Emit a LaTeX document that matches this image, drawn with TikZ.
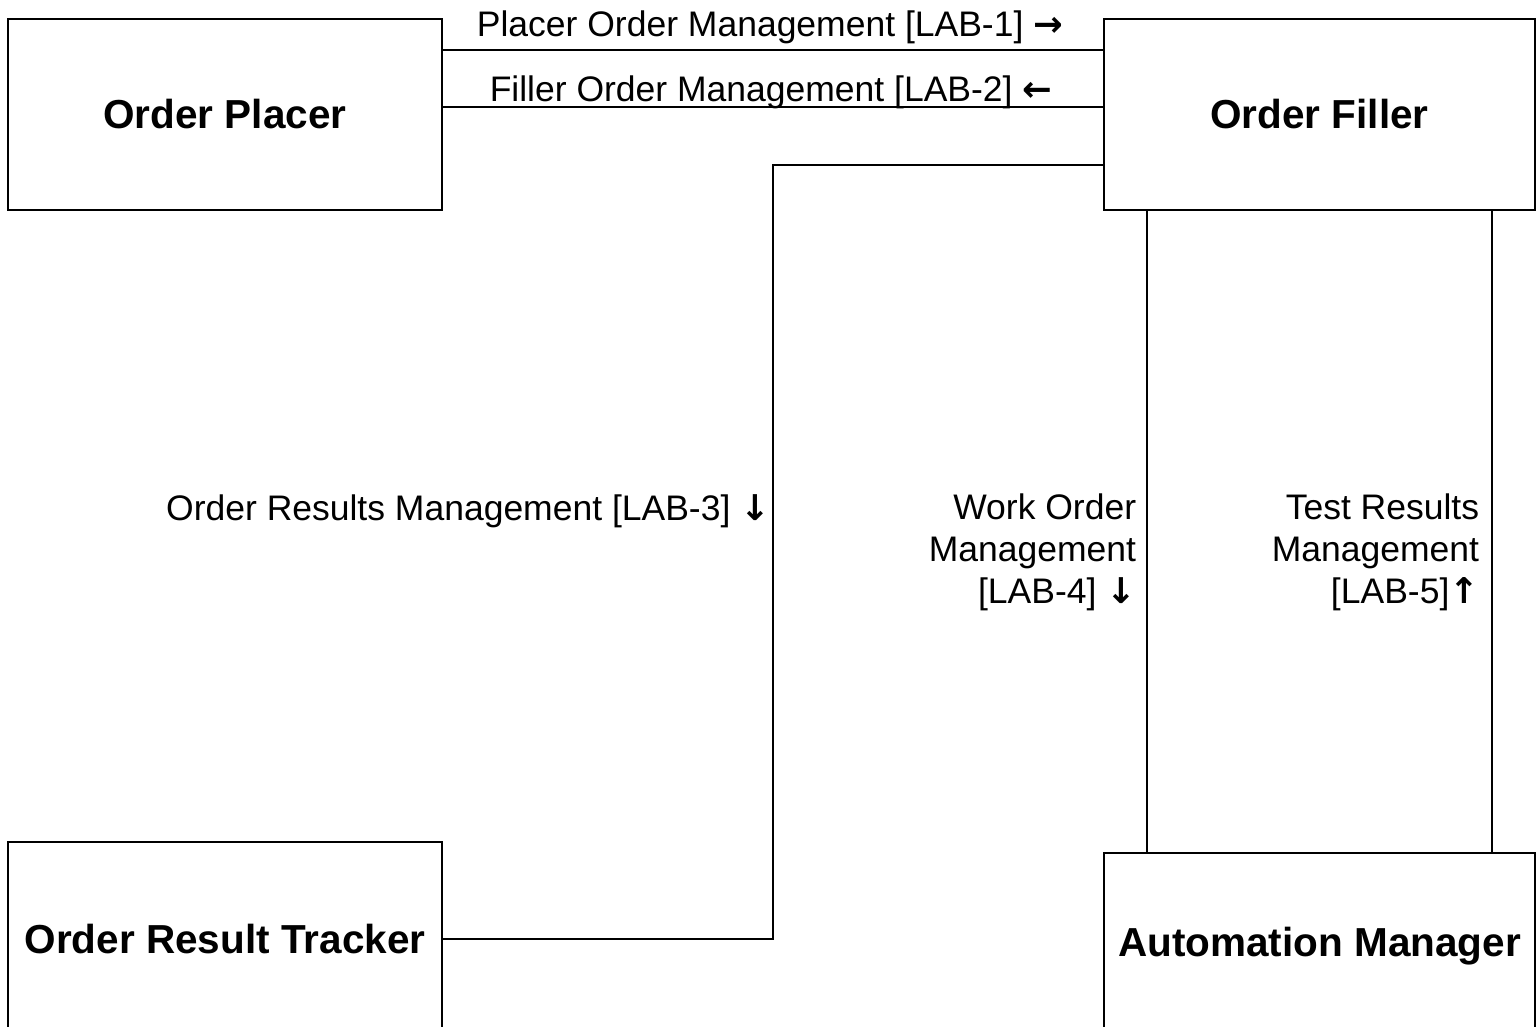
\documentclass[tikz,border=0pt]{standalone}
\usepackage{fontspec}
\setmainfont{Liberation Sans}
\newfontfamily\arrfont{DejaVu Sans}
\newcommand{\myarr}[1]{{\arrfont\bfseries #1}}
\begin{document}
\begin{tikzpicture}[x=1pt,y=-1pt,line width=1.8pt,
  box/.style={draw,line width=1.8pt,inner sep=0pt,font=\fontsize{40.5}{46}\selectfont\bfseries},
  lbl/.style={font=\fontsize{35.5}{42}\selectfont,inner sep=0pt},
  conn/.style={draw,line width=1.8pt}]
\path[use as bounding box] (0,0) rectangle (1537,1027);
\clip (0,0) rectangle (1537,1027);
\node[box,minimum width=434pt,minimum height=191pt] (placer) at (225,114.5) {Order Placer};
\node[box,minimum width=431pt,minimum height=191pt] (filler) at (1319.5,114.5) {Order Filler};
\node[box,minimum width=434pt,minimum height=194pt] (tracker) at (225,939) {Order Result Tracker};
\node[box,minimum width=431pt,minimum height=186pt] (auto) at (1319.5,946) {Automation Manager};
\coordinate (bend) at (773,0);
\coordinate (f3) at ([yshift=-147pt]filler.north west);
\draw[conn] ([yshift=-32pt]placer.north east) -- ([yshift=-32pt]filler.north west);
\draw[conn] ([yshift=-89pt]placer.north east) -- ([yshift=-89pt]filler.north west);
\draw[conn] (f3) -- (bend |- f3) -- (bend |- tracker.east) -- (tracker.east);
\draw[conn] ([xshift=44pt]filler.south west) -- ([xshift=44pt]auto.north west);
\draw[conn] ([xshift=-44pt]filler.south east) -- ([xshift=-44pt]auto.north east);
\node[lbl,anchor=base] (l1) at (770,37) {Placer Order Management [LAB-1] \myarr{→}};
\node[lbl,anchor=base] (l2) at (771,102) {Filler Order Management [LAB-2] \myarr{←}};
\node[lbl,anchor=base east] (l3) at (771,520) {Order Results Management [LAB-3] \myarr{↓}};
\node[lbl,anchor=north east,align=right] (l4) at (1137,493) {Work Order\\Management\\{[LAB-4]} \myarr{↓}};
\node[lbl,anchor=north east,align=right] (l5) at (1480,493) {Test Results\\Management\\{[LAB-5]}\myarr{↑}};
\end{tikzpicture}
\end{document}
